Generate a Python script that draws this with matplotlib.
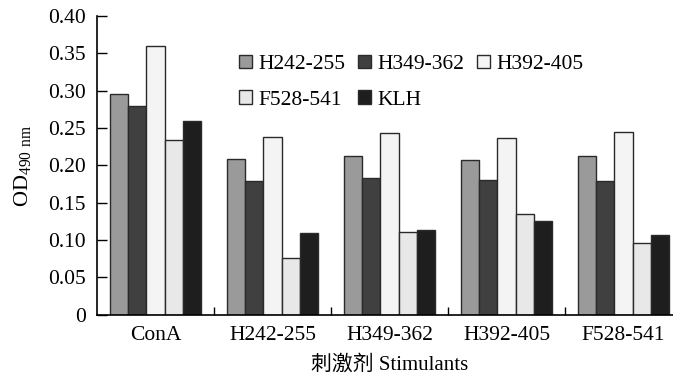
import numpy as np
import matplotlib
matplotlib.use("Agg")
import matplotlib.pyplot as plt
from matplotlib.patches import Patch

plt.rcParams['font.family'] = ['Liberation Serif', 'Noto Sans CJK SC']
plt.rcParams['mathtext.fontset'] = 'custom'
plt.rcParams['mathtext.rm'] = 'Liberation Serif'

# 刺激剂分组
stimulants = ['ConA', 'H242-255', 'H349-362', 'H392-405', 'F528-541']
series = ['H242-255', 'H349-362', 'H392-405', 'F528-541', 'KLH']

# OD490 读数
od_h242 = [0.296, 0.209, 0.213, 0.207, 0.213]
od_h349 = [0.280, 0.179, 0.183, 0.181, 0.179]
od_h392 = [0.360, 0.238, 0.243, 0.237, 0.245]
od_f528 = [0.234, 0.076, 0.111, 0.135, 0.096]
od_klh = [0.260, 0.109, 0.113, 0.125, 0.107]

colors = ['#9a9a9a', '#404040', '#f4f4f4', '#e8e8e8', '#1e1e1e']

fig = plt.figure(figsize=(6.73, 3.78), dpi=100)
ax = fig.add_axes([97 / 673, 1 - 314.7 / 378, 585 / 673, 298.7 / 378])

x = np.arange(len(stimulants))
bw = 0.154
data = [od_h242, od_h349, od_h392, od_f528, od_klh]
for i, vals in enumerate(data):
    ax.bar(x + (i - 2) * bw, vals, width=bw, color=colors[i],
           edgecolor='#2a2a2a', linewidth=1.0, zorder=2)

ax.set_xlim(-0.5, 4.5)
ax.set_ylim(0, 0.40)
ax.set_yticks(np.arange(0, 0.401, 0.05))
ax.set_yticklabels(['0'] + [f'{v:.2f}' for v in np.arange(0.05, 0.401, 0.05)])
ax.set_xticks(x)
ax.set_xticklabels(stimulants)
ax.set_xticks(np.arange(0.5, 4.5, 1.0), minor=True)
ax.tick_params(axis='x', which='major', length=0, pad=8, labelsize=15.5)
ax.tick_params(axis='x', which='minor', direction='in', length=6, width=1)
ax.tick_params(axis='y', direction='in', length=7, width=1, pad=8, labelsize=15.5)

for s in ['top', 'right']:
    ax.spines[s].set_visible(False)
for s in ['left', 'bottom']:
    ax.spines[s].set_linewidth(1.2)

ax.set_ylabel(r'OD$_{\mathrm{490\ nm}}$', fontsize=16, labelpad=10)
ax.set_xlabel('刺激剂 Stimulants', fontsize=15, labelpad=7)

handles = [Patch(facecolor=c, edgecolor='#2a2a2a', linewidth=1.0) for c in colors]
order = [0, 3, 1, 4, 2]
ax.legend([handles[k] for k in order], [series[k] for k in order],
          ncol=3, frameon=False, fontsize=15.5,
          loc='upper left', bbox_to_anchor=(228 / 673, 1 - 44 / 378),
          bbox_transform=fig.transFigure,
          handlelength=0.6, handleheight=0.6, handletextpad=0.3,
          columnspacing=0.6, labelspacing=0.75, borderpad=0)

fig.savefig('out.png', dpi=100)
